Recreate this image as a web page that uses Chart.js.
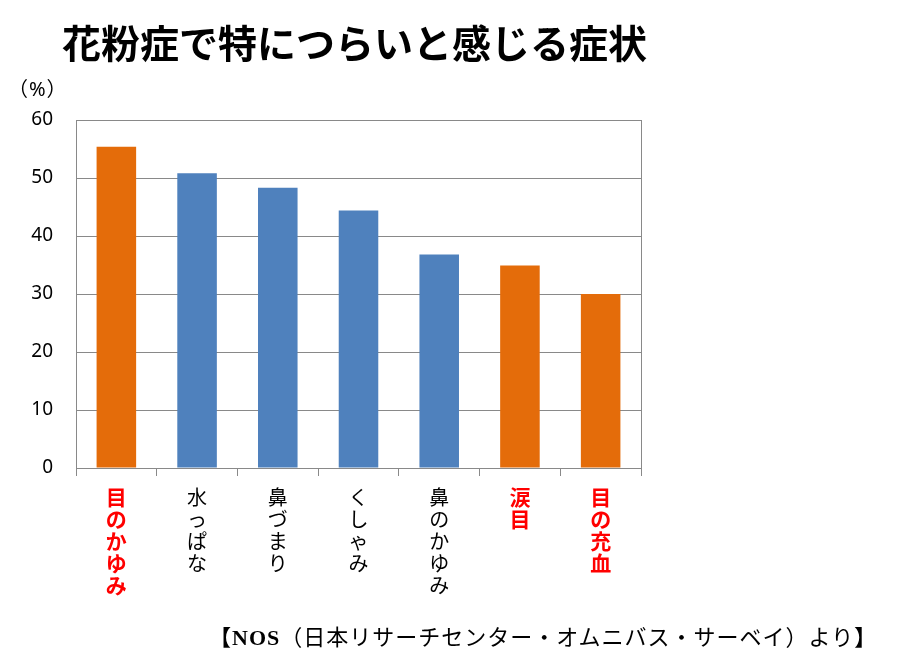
<!DOCTYPE html>
<html lang="ja">
<head>
<meta charset="utf-8">
<title>花粉症で特につらいと感じる症状</title>
<script src="https://cdn.jsdelivr.net/npm/chart.js@4"></script>
<style>
  html, body { margin: 0; padding: 0; background: #fff; }
  #wrap { position: relative; width: 910px; height: 670px; overflow: hidden; }
  #chart { position: absolute; left: 0; top: 0; }
  .txt { position: absolute; white-space: nowrap; color: #000; }
  #title { left: 62px; top: 22px; font: 700 39px/39px "Noto Sans CJK JP", sans-serif; }
  #unit { left: 8px; top: 77px; font: 400 20px/24px "Noto Sans", "Noto Sans CJK JP", sans-serif; letter-spacing: 1px; }
  #source { left: 209px; top: 625px; font: 400 22px/26px "Liberation Serif", "Noto Sans CJK JP", serif; letter-spacing: 1px; }
  #source b { font-weight: 700; }
</style>
</head>
<body>
<div id="wrap">
  <canvas id="chart" width="910" height="670"></canvas>
  <div class="txt" id="title">花粉症で特につらいと感じる症状</div>
  <div class="txt" id="unit">（%）</div>
  <div class="txt" id="source"><b>【NOS</b>（日本リサーチセンター・オムニバス・サーベイ）より<b>】</b></div>
</div>
<script>
  // data
  const categories = ['目のかゆみ', '水っぱな', '鼻づまり', 'くしゃみ', '鼻のかゆみ', '涙目', '目の充血'];
  const values = [55.4, 50.8, 48.3, 44.4, 36.8, 34.9, 30.0];
  const eyeSymptom = [true, false, false, false, false, true, true];
  const yTicks = [0, 10, 20, 30, 40, 50, 60];

  const orange = '#E46C0A';
  const blue = '#4F81BD';
  const gridGray = '#898989';
  const sans = '"Noto Sans CJK JP", sans-serif';

  new Chart(document.getElementById('chart'), {
    type: 'bar',
    data: {
      labels: categories,
      datasets: [{
        data: values,
        backgroundColor: eyeSymptom.map(e => e ? orange : blue),
        borderWidth: 0,
        barPercentage: 0.49,
        categoryPercentage: 1
      }]
    },
    options: {
      responsive: false,
      animation: false,
      events: [],
      layout: { padding: { left: 0, right: 269, top: 120, bottom: 0 } },
      plugins: { legend: { display: false }, tooltip: { enabled: false }, title: { display: false } },
      scales: {
        x: {
          afterFit: s => { s.height = 202; },
          grid: {
            offset: true,
            drawOnChartArea: true,
            // only the closing line on the right edge shows inside the plot
            color: c => c.type === 'tick' ? 'rgba(0,0,0,0)' : gridGray,
            tickColor: gridGray,
            tickLength: 8,
            lineWidth: 1
          },
          border: { color: gridGray, width: 1 },
          ticks: {
            autoSkip: false,
            maxRotation: 0,
            padding: 10,
            callback: (v, i) => Array.from(categories[i]),
            color: c => eyeSymptom[c.index] ? '#FF0000' : '#000',
            font: c => ({
              family: sans,
              size: eyeSymptom[c.index] ? 21 : 20,
              weight: eyeSymptom[c.index] ? 'bold' : 'normal',
              lineHeight: '22px'
            })
          }
        },
        y: {
          min: 0,
          max: 60,
          afterFit: s => { s.width = 76; },
          afterBuildTicks: s => { s.ticks = yTicks.map(v => ({ value: v })); },
          grid: { color: gridGray, drawTicks: false, lineWidth: 1 },
          border: { color: gridGray, width: 1 },
          ticks: {
            padding: 23,
            color: '#000',
            font: { family: '"Noto Sans", sans-serif', size: 19 }
          }
        }
      }
    }
  });
</script>
</body>
</html>
